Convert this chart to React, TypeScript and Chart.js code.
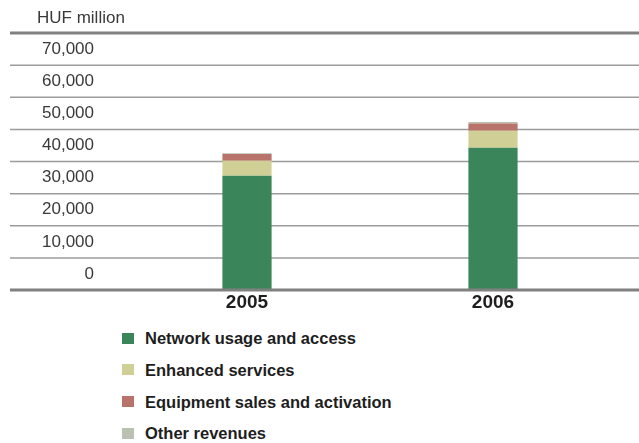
import React, { useEffect, useRef } from 'react';
import { Chart, registerables } from 'chart.js';

Chart.register(...registerables);

const years = ['2005', '2006'];
const networkUsage = [35600, 44300];
const enhancedServices = [4600, 5300];
const equipmentSales = [2100, 2200];
const otherRevenues = [300, 500];
const seriesNames = [
  'Network usage and access',
  'Enhanced services',
  'Equipment sales and activation',
  'Other revenues',
];
const seriesColors = ['#3a865a', '#d0d096', '#b8736a', '#b9c1b0'];
const yMax = 80000;
const yStep = 10000;
const unitLabel = 'HUF million';

const FONT = "'Liberation Sans', Arial, sans-serif";

const gridPlugin = {
  id: 'fullGrid',
  beforeDatasetsDraw(chart: any) {
    const y = chart.scales.y;
    const ctx = chart.ctx;
    ctx.save();
    ctx.strokeStyle = '#9c9c9c';
    ctx.lineWidth = 1.5;
    y.ticks.forEach((t: any) => {
      if (t.value === 0 || t.value === yMax) return;
      const py = y.getPixelForValue(t.value);
      ctx.beginPath();
      ctx.moveTo(10, py);
      ctx.lineTo(chart.width, py);
      ctx.stroke();
    });
    ctx.restore();
  },
  afterDatasetsDraw(chart: any) {
    const y = chart.scales.y;
    const ctx = chart.ctx;
    ctx.save();
    ctx.strokeStyle = '#808080';
    ctx.lineWidth = 3;
    [0, yMax].forEach((v) => {
      const py = y.getPixelForValue(v);
      ctx.beginPath();
      ctx.moveTo(10, py);
      ctx.lineTo(chart.width, py);
      ctx.stroke();
    });
    ctx.restore();
  },
};

export default function App() {
  const canvasRef = useRef<HTMLCanvasElement | null>(null);

  useEffect(() => {
    document.body.style.margin = '0';
    const canvas = canvasRef.current;
    if (!canvas) return;
    const seriesData = [networkUsage, enhancedServices, equipmentSales, otherRevenues];
    const chart = new Chart(canvas, {
      type: 'bar',
      data: {
        labels: years,
        datasets: seriesNames.map((name, i) => ({
          label: name,
          data: seriesData[i],
          backgroundColor: seriesColors[i],
          borderWidth: 0,
          categoryPercentage: 1,
          barPercentage: 0.2,
        })),
      },
      plugins: [gridPlugin],
      options: {
        responsive: false,
        animation: false,
        layout: { padding: { left: 10, right: 23, top: 33, bottom: 0 } },
        plugins: {
          legend: { display: false },
          tooltip: { enabled: false },
        },
        scales: {
          x: {
            stacked: true,
            grid: { display: false, drawTicks: false },
            border: { display: false },
            ticks: {
              color: '#1e1e1e',
              font: { family: FONT, size: 19, weight: 'bold' },
              padding: 1,
            },
            afterFit: (scale: any) => {
              scale.height = 30;
              scale.paddingLeft = 0;
              scale.paddingRight = 0;
            },
          },
          y: {
            stacked: true,
            min: 0,
            max: yMax,
            grid: { display: false, drawTicks: false },
            border: { display: false },
            ticks: {
              stepSize: yStep,
              color: '#3a3a3a',
              font: { family: FONT, size: 17 },
              padding: 30,
              labelOffset: -16,
              callback: (v: any) => (Number(v) === yMax ? '' : Number(v).toLocaleString('en-US')),
            },
            afterFit: (scale: any) => {
              scale.width = 114;
              scale.paddingTop = 0;
              scale.paddingBottom = 0;
            },
          },
        },
      },
    });
    return () => chart.destroy();
  }, []);

  return (
    <div
      style={{
        position: 'relative',
        width: 639,
        height: 443,
        background: '#ffffff',
        fontFamily: FONT,
        overflow: 'hidden',
      }}
    >
      <canvas ref={canvasRef} width={639} height={320} style={{ position: 'absolute', left: 0, top: 0 }} />
      <div
        style={{
          position: 'absolute',
          left: 37,
          top: 8,
          fontSize: 17,
          lineHeight: '20px',
          color: '#3a3a3a',
          whiteSpace: 'nowrap',
        }}
      >
        {unitLabel}
      </div>
      {seriesNames.map((name, i) => (
        <div
          key={name}
          style={{
            position: 'absolute',
            left: 122,
            top: 328.2 + i * 31.7,
            height: 20,
            display: 'flex',
            alignItems: 'center',
            whiteSpace: 'nowrap',
          }}
        >
          <span
            style={{
              display: 'inline-block',
              width: 12,
              height: 11,
              background: seriesColors[i],
              marginRight: 11,
            }}
          />
          <span style={{ fontSize: 16.5, fontWeight: 'bold', color: '#1e1e1e', lineHeight: '20px' }}>{name}</span>
        </div>
      ))}
    </div>
  );
}
